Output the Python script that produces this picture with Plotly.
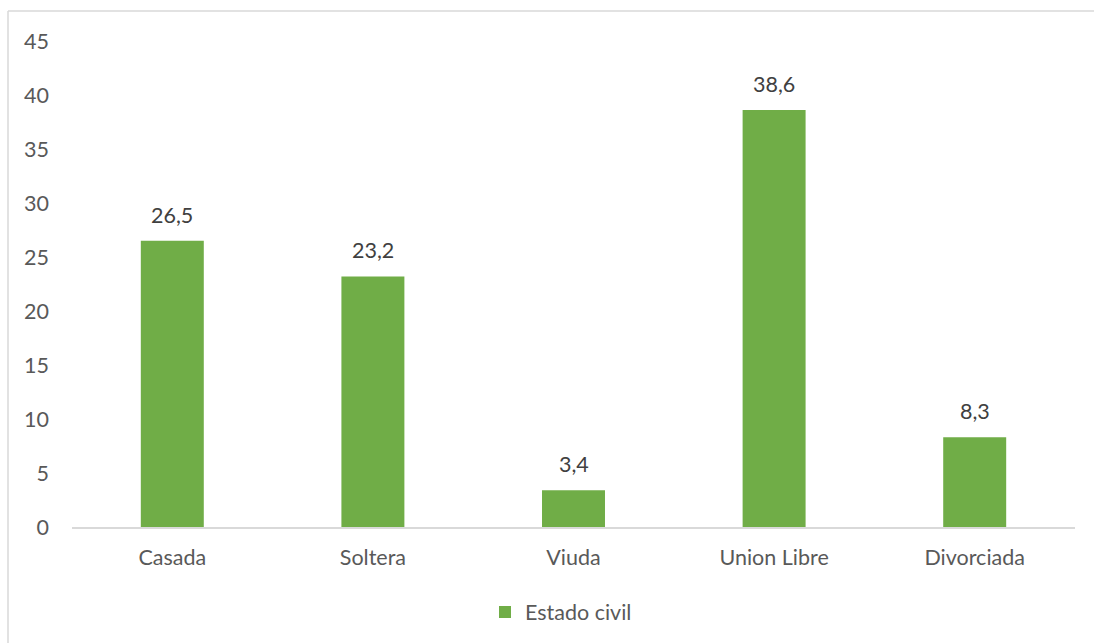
import plotly.graph_objects as go

categories = ["Casada", "Soltera", "Viuda", "Union Libre", "Divorciada"]
values = [26.5, 23.2, 3.4, 38.6, 8.3]
series_name = "Estado civil"
y_ticks = [0, 5, 10, 15, 20, 25, 30, 35, 40, 45]

W, H = 1094, 643
PL, PR, PT, PB = 72, 1075, 41, 528  # plot area in window pixels
L, T, R, B = PL, PT, W - PR, H - PB
pw, ph = W - L - R, H - T - B

GREEN = "#70AD47"
FONT = "Lato, Open Sans, sans-serif"
FS = 21.5
BORDER = "#D9D9D9"

fig = go.Figure()
fig.add_trace(go.Bar(
    x=categories, y=values, name=series_name,
    marker=dict(color=GREEN, line=dict(width=0)),
    showlegend=True,
))

for c, v in zip(categories, values):
    fig.add_annotation(
        x=c, y=v, text=f"{v:.1f}".replace(".", ","),
        showarrow=False, yanchor="bottom", yshift=11,
        font=dict(family=FONT, size=FS, color="#404040"),
    )

def px_x(p):
    return (p - PL) / pw

def px_y(p):
    return (PB - p) / ph

# chart-area border (top and left edges visible in the frame)
fig.add_shape(type="line", xref="paper", yref="paper",
              x0=px_x(8), x1=px_x(1120), y0=px_y(11), y1=px_y(11),
              line=dict(color=BORDER, width=1.5), layer="below")
fig.add_shape(type="line", xref="paper", yref="paper",
              x0=px_x(8), x1=px_x(8), y0=px_y(11), y1=px_y(700),
              line=dict(color=BORDER, width=1.5), layer="below")

fig.update_layout(
    width=W, height=H,
    margin=dict(l=L, r=R, t=T, b=B),
    paper_bgcolor="white", plot_bgcolor="white",
    bargap=0.686,
    separators=",.",
    font=dict(family=FONT, size=FS, color="#595959"),
    xaxis=dict(showline=True, linecolor=BORDER, linewidth=1.5,
               ticks="", showgrid=False, tickfont=dict(size=FS, color="#595959"),
               ticklabelstandoff=10),
    yaxis=dict(range=[0, 45], tickvals=y_ticks, showgrid=False, zeroline=False,
               showline=False, ticks="", tickfont=dict(size=FS, color="#595959"),
               ticklabelstandoff=22),
    legend=dict(orientation="h", x=px_x(561), xanchor="center", y=px_y(612), yanchor="middle",
                font=dict(size=FS, color="#595959"), itemwidth=30),
)

fig.write_html(
    "out.html",
    config={"displayModeBar": False},
    post_script="document.body.style.margin='0';document.body.style.overflow='hidden';",
)
